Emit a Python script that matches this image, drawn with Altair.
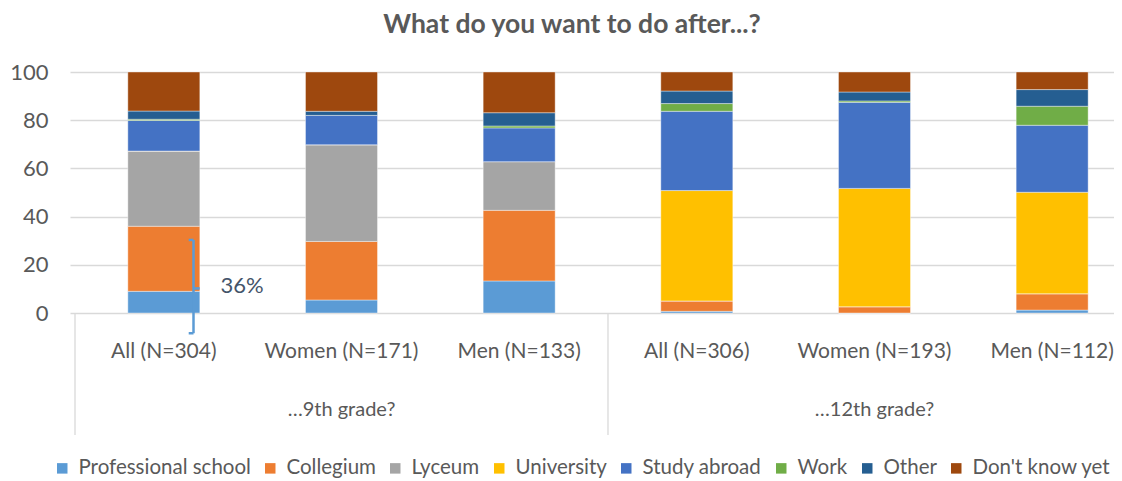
import altair as alt
import pandas as pd

# ---- data ----
categories = ["All (N=304)", "Women (N=171)", "Men (N=133)",
              "All (N=306)", "Women (N=193)", "Men (N=112)"]
positions = [0.5, 1.5, 2.5, 3.5, 4.5, 5.5]
groups = ["…9th grade?", "…12th grade?"]
group_positions = [1.5, 4.5]
separators = [0, 3]

series = ["Professional school", "Collegium", "Lyceum", "University",
          "Study abroad", "Work", "Other", "Don't know yet"]
colors = ["#5B9BD5", "#ED7D31", "#A5A5A5", "#FFC000",
          "#4472C4", "#70AD47", "#255E91", "#9E480E"]

professional = [9.0, 5.4, 13.3, 0.7, 0.0, 1.2]
collegium = [27.0, 24.3, 29.3, 4.3, 2.6, 6.8]
lyceum = [31.2, 40.1, 20.2, 0.0, 0.0, 0.0]
university = [0.0, 0.0, 0.0, 45.8, 49.1, 42.1]
study_abroad = [12.7, 12.2, 14.0, 32.9, 35.7, 27.8]
work = [0.5, 0.0, 0.8, 3.2, 0.6, 7.9]
other = [3.4, 1.7, 5.5, 5.2, 3.7, 6.9]
dont_know = [16.2, 16.3, 16.9, 7.9, 8.3, 7.3]

values = [professional, collegium, lyceum, university,
          study_abroad, work, other, dont_know]

# annotation (bracket + "36%")
bracket_x = 0.667
bracket_top = 30.3
bracket_mid = 10.2
bracket_bottom = -8.4
hook_left = 0.640
hook_right = 0.702
note_text = "36%"
note_x = 0.94
note_y = 11.0

rows = []
for si, (s, vals) in enumerate(zip(series, values)):
    for c, p, v in zip(categories, positions, vals):
        rows.append({"cat": c, "pos": p, "series": s, "idx": si, "value": v})
df = pd.DataFrame(rows)

cat_df = pd.DataFrame({"cat": categories, "pos": positions})
grp_df = pd.DataFrame({"grp": groups, "pos": group_positions})
sep_df = pd.DataFrame({"x": separators})

GREY = "#595959"
FONT = "Lato"
W, H = 1044, 241

xscale = alt.Scale(domain=[0, 5.82], nice=False, zero=False)
yscale = alt.Scale(domain=[0, 100], nice=False)

bars = alt.Chart(df).mark_bar(width=72, stroke="white", strokeWidth=0.4).encode(
    x=alt.X("pos:Q", scale=xscale, axis=None),
    y=alt.Y("value:Q", stack="zero", scale=yscale,
            axis=alt.Axis(values=[0, 20, 40, 60, 80, 100], grid=True,
                          gridColor="#D9D9D9", gridWidth=1.3, domain=False,
                          ticks=False, labelPadding=22, labelFontSize=22,
                          labelFont=FONT, labelColor=GREY, title=None)),
    color=alt.Color("series:N", scale=alt.Scale(domain=series, range=colors),
                    legend=alt.Legend(orient="none", legendX=-18, legendY=386,
                                      direction="horizontal", columns=8,
                                      title=None, symbolType="square",
                                      symbolSize=110, symbolStrokeWidth=0,
                                      labelFontSize=20.5, labelFont=FONT,
                                      labelColor=GREY, labelOffset=6,
                                      labelLimit=400, columnPadding=9)),
    order=alt.Order("idx:Q", sort="ascending"),
)

cat_labels = alt.Chart(cat_df).mark_text(
    fontSize=21, font=FONT, color=GREY, baseline="middle").encode(
    x=alt.X("pos:Q", scale=xscale), y=alt.value(H + 39), text="cat:N")

grp_labels = alt.Chart(grp_df).mark_text(
    fontSize=20, font=FONT, color=GREY, baseline="middle").encode(
    x=alt.X("grp_pos:Q", scale=xscale), y=alt.value(H + 97), text="grp:N"
).transform_calculate(grp_pos="datum.pos")

seps = alt.Chart(sep_df).mark_rule(color="#D9D9D9", strokeWidth=1.3).encode(
    x=alt.X("x:Q", scale=xscale), y=alt.value(H), y2=alt.value(H + 122))

br_df = pd.DataFrame({
    "x": [bracket_x, hook_left, bracket_x, hook_left],
    "x2": [bracket_x, bracket_x, hook_right, bracket_x],
    "y": [bracket_top, bracket_top, bracket_mid, bracket_bottom],
    "y2": [bracket_bottom, bracket_top, bracket_mid, bracket_bottom],
})
bracket = alt.Chart(br_df).mark_rule(color="#5B9BD5", strokeWidth=2.5).encode(
    x=alt.X("x:Q", scale=xscale), x2="x2:Q",
    y=alt.Y("y:Q", scale=yscale), y2="y2:Q")

note = alt.Chart(pd.DataFrame({"t": [note_text], "x": [note_x], "y": [note_y]})
                 ).mark_text(fontSize=22, font=FONT, color="#44546A",
                             align="center", baseline="middle").encode(
    x=alt.X("x:Q", scale=xscale), y=alt.Y("y:Q", scale=yscale), text="t:N")

chart = alt.layer(bars, cat_labels, grp_labels, seps, bracket, note).properties(
    width=W, height=H,
    title=alt.TitleParams("What do you want to do after...?", fontSize=26.5,
                          font=FONT, fontWeight="bold", color=GREY,
                          anchor="middle", dx=-20, offset=23),
    autosize=alt.AutoSizeParams(type="none"),
    padding={"left": 62, "top": 64, "right": 0, "bottom": 166},
).configure_view(stroke=None)

chart.save("out.html", embed_options={"renderer": "svg", "actions": False})
